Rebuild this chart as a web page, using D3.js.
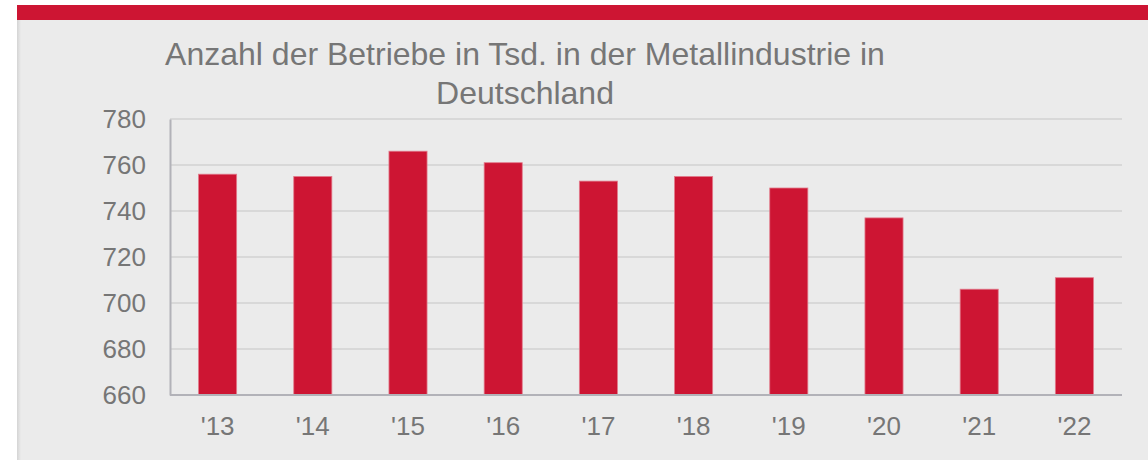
<!DOCTYPE html>
<html><head><meta charset="utf-8">
<script src="https://cdn.jsdelivr.net/npm/d3@7"></script>
<style>
html,body{margin:0;padding:0;background:#fff;}
svg{display:block;font-family:"Liberation Sans",Arial,sans-serif;}
</style></head>
<body>
<svg id="c" width="1148" height="460"></svg>
<script>
const categories = ["'13","'14","'15","'16","'17","'18","'19","'20","'21","'22"];
const values = [756, 755, 766, 761, 753, 755, 750, 737, 706, 711];
const yTicks = [660, 680, 700, 720, 740, 760, 780];
const titleLines = ["Anzahl der Betriebe in Tsd. in der Metallindustrie in", "Deutschland"];

(function(){
const svg = d3.select("#c");
const defs = svg.append("defs");
const g = defs.append("linearGradient").attr("id","sh").attr("x1","0").attr("x2","1");
g.append("stop").attr("offset","0").attr("stop-color","#d4d4d4");
g.append("stop").attr("offset","1").attr("stop-color","#ebebeb");

// panel
svg.append("rect").attr("x",17).attr("y",20).attr("width",1131).attr("height",440).attr("fill","#ebebeb");
svg.append("rect").attr("x",17).attr("y",20).attr("width",4).attr("height",440).attr("fill","url(#sh)");
// red top bar
svg.append("rect").attr("x",17).attr("y",5).attr("width",1131).attr("height",15).attr("fill","#cd1533");

const pLeft = 170, pRight = 1122, pTop = 119, pBottom = 395;
const x = d3.scaleBand().domain(categories).range([pLeft, pRight]).paddingInner(0.6).paddingOuter(0.3);
const y = d3.scaleLinear().domain([660, 780]).range([pBottom, pTop]);

// gridlines
svg.append("g").selectAll("line").data(yTicks.filter(d => d !== 660)).join("line")
  .attr("x1", pLeft).attr("x2", pRight).attr("y1", d => y(d)).attr("y2", d => y(d))
  .attr("stroke", "#d8d8d8").attr("stroke-width", 2);

// bars
svg.append("g").selectAll("rect").data(values).join("rect")
  .attr("x", (d,i) => x(categories[i]))
  .attr("width", x.bandwidth())
  .attr("y", d => y(d))
  .attr("height", d => y(660) - y(d))
  .attr("fill", "#cd1533")
  .attr("stroke", "#e27a8a").attr("stroke-width", 0.8);

// y axis
const yAxis = d3.axisLeft(y).tickValues(yTicks).tickSize(0).tickPadding(24);
const ya = svg.append("g").attr("transform", `translate(${pLeft},0)`).call(yAxis);
ya.select(".domain").attr("stroke", "#b2b2b8").attr("stroke-width", 2);
ya.selectAll("text").attr("fill", "#767676").attr("font-size", 26).attr("font-family", "Liberation Sans, Arial, sans-serif");

// x axis
const xAxis = d3.axisBottom(x).tickSize(0).tickPadding(22);
const xa = svg.append("g").attr("transform", `translate(0,${pBottom})`).call(xAxis);
xa.select(".domain").attr("stroke", "#b2b2b8").attr("stroke-width", 2).attr("d", `M${pLeft},0H${pRight}`);
xa.selectAll("text").attr("fill", "#767676").attr("font-size", 26).attr("font-family", "Liberation Sans, Arial, sans-serif");

// title
svg.append("g").selectAll("text").data(titleLines).join("text")
  .attr("x", 525).attr("y", (d,i) => 65 + i*39)
  .attr("text-anchor", "middle").attr("fill", "#767676").attr("font-size", 32)
  .text(d => d);
})();
</script>
</body></html>
